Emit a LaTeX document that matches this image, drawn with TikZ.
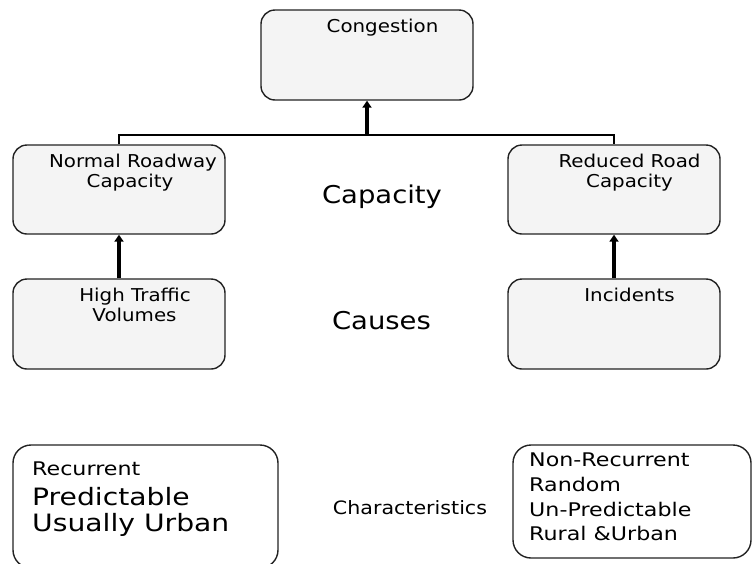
\documentclass[tikz,border=0pt]{standalone}
\usepackage{fontspec}
\setmainfont{DejaVu Sans}
\newfontfamily\fa[FakeStretch=1.12]{DejaVu Sans}
\newfontfamily\fb[FakeStretch=1.18]{DejaVu Sans}
\usetikzlibrary{arrows.meta}
\definecolor{boxfill}{HTML}{F4F4F4}
\definecolor{edge}{HTML}{222222}
\tikzset{
  upbox/.style={draw=edge, line width=1.4pt, fill=boxfill, rounded corners=14pt, inner sep=0pt},
  lowbox/.style={draw=edge, line width=1.4pt, fill=white, rounded corners=18pt, inner sep=0pt},
  boxtext/.style={font=\fa\fontsize{17.7}{20}\selectfont, anchor=base, inner sep=0pt, text=black},
  midtext/.style={font=\fa\fontsize{24.5}{28}\selectfont, anchor=base, inner sep=0pt, text=black},
  chartext/.style={font=\fa\fontsize{18.4}{22}\selectfont, anchor=base, inner sep=0pt, text=black},
  smalltext/.style={font=\fb\fontsize{18.8}{22}\selectfont, anchor=base west, inner sep=0pt, text=black},
  bigtext/.style={font=\fb\fontsize{23.9}{26}\selectfont, anchor=base west, inner sep=0pt, text=black},
  conn/.style={line width=2.8pt, black},
  arrowconn/.style={line width=3.4pt, black, -{Triangle[width=9pt,length=7pt]}}
}
\begin{document}
\begin{tikzpicture}[x=1pt,y=-1pt]
\useasboundingbox (0,0) rectangle (753,563);
% boxes
\node[upbox, minimum width=212pt, minimum height=90pt] (cong) at (367,55) {};
\node[upbox, minimum width=212pt, minimum height=89pt] (nrc) at (119,189.5) {};
\node[upbox, minimum width=212pt, minimum height=90pt] (htv) at (119,324) {};
\node[upbox, minimum width=212pt, minimum height=89pt] (rrc) at (614,189.5) {};
\node[upbox, minimum width=212pt, minimum height=90pt] (inc) at (614,324) {};
\begin{scope}
\clip (0,0) rectangle (753,563);
\node[lowbox, minimum width=265pt, minimum height=123pt] (rec) at (145.5,506.5) {};
\end{scope}
\node[lowbox, minimum width=238pt, minimum height=113pt] (nonrec) at (632,501.5) {};
% texts
\node[boxtext] (tcong) at (382.5,32.5) {Congestion};
\node[boxtext] (tnrc1) at (133,167) {Normal Roadway};
\node[boxtext] (tnrc2) at (130,187) {Capacity};
\node[boxtext] (thtv1) at (135,301) {High Traffic};
\node[boxtext] (thtv2) at (134.5,321.7) {Volumes};
\node[boxtext] (trrc1) at (629.5,167) {Reduced Road};
\node[boxtext] (trrc2) at (629.5,187) {Capacity};
\node[boxtext] (tinc) at (629.5,301) {Incidents};
\node[midtext] (lcap) at (382,203) {Capacity};
\node[midtext] (lcau) at (381.5,329) {Causes};
\node[chartext] (lchar) at (410,514) {Characteristics};
\node[smalltext] (r1) at (32,475) {Recurrent};
\node[bigtext] (r2) at (32,505) {Predictable};
\node[bigtext] (r3) at (32,531.7) {Usually Urban};
\node[smalltext] (n1) at (529,466.7) {Non-Recurrent};
\node[smalltext] (n2) at (529,491.7) {Random};
\node[smalltext] (n3) at (529,516) {Un-Predictable};
\node[smalltext] (n4) at (529,540) {Rural \&Urban};
% connectors
\coordinate (hub) at (367,135);
\draw[conn] (nrc.north) |- (hub) -| (rrc.north);
\draw[arrowconn] (hub) -- (cong.south);
\draw[arrowconn] (htv.north) -- (nrc.south);
\draw[arrowconn] (inc.north) -- (rrc.south);
\end{tikzpicture}
\end{document}
